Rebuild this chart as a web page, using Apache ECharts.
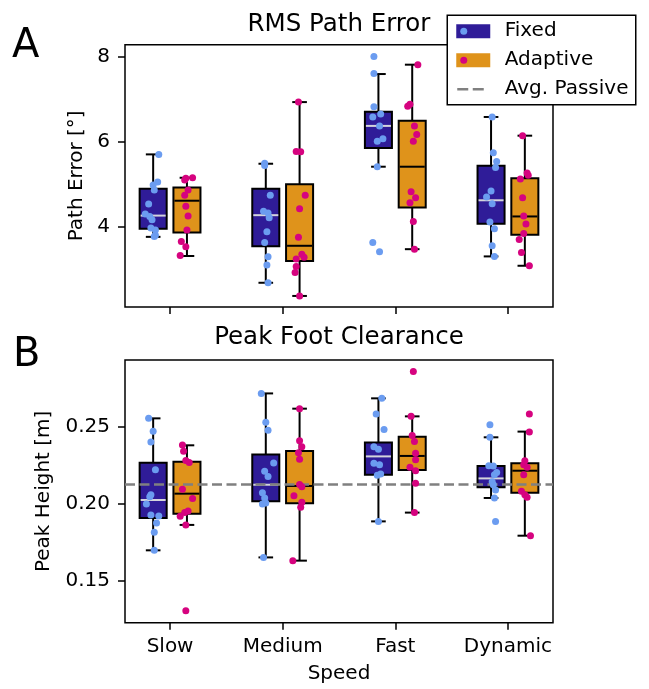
<!DOCTYPE html>
<html>
<head>
<meta charset="utf-8">
<title>RMS Path Error / Peak Foot Clearance</title>
<script src="https://cdn.jsdelivr.net/npm/echarts@6/dist/echarts.min.js"></script>
<style>
  html, body { margin: 0; padding: 0; background: #fff; }
  #chart { width: 649px; height: 689px; }
</style>
</head>
<body>
<div id="chart"></div>
<script>
// categories on the shared x axis
const categories = ['Slow', 'Medium', 'Fast', 'Dynamic'];

// box stats per category: [lower whisker, q1, median, q3, upper whisker]
const errFixedBox = [[3.76, 3.95, 4.26, 4.89, 5.70], [2.68, 3.54, 4.27, 4.89, 5.48], [5.41, 5.85, 6.37, 6.70, 7.59], [3.30, 4.07, 4.62, 5.43, 6.58]];
const errAdaptBox = [[3.31, 3.86, 4.61, 4.92, 5.15], [2.37, 3.19, 3.55, 5.00, 6.93], [3.47, 4.45, 5.41, 6.49, 7.81], [3.08, 3.81, 4.24, 5.14, 6.14]];
const clrFixedBox = [[0.1697, 0.1907, 0.2024, 0.2266, 0.2554], [0.1651, 0.2015, 0.2123, 0.2320, 0.2716], [0.1885, 0.2188, 0.2307, 0.2398, 0.2684], [0.2037, 0.2106, 0.2164, 0.2245, 0.2431]];
const clrAdaptBox = [[0.1862, 0.1935, 0.2065, 0.2273, 0.2379], [0.1630, 0.2002, 0.2115, 0.2342, 0.2617], [0.1942, 0.2219, 0.2310, 0.2435, 0.2567], [0.1792, 0.2071, 0.2214, 0.2262, 0.2468]];

// individual trials, [jittered x, value]
const errFixedPts = [
  [-0.10, 5.70], [-0.11, 5.05], [-0.15, 4.98], [-0.14, 4.86], [-0.19, 4.53], [-0.22, 4.30], [-0.18, 4.24], [-0.16, 4.16], [-0.17, 3.97], [-0.13, 3.92], [-0.14, 3.77], [-0.13, 3.80],
  [0.84, 5.49], [0.84, 5.44], [0.89, 4.74], [0.83, 4.36], [0.87, 4.32], [0.88, 4.21], [0.86, 3.88], [0.84, 3.63], [0.87, 3.29], [0.86, 3.10], [0.87, 2.68],
  [1.81, 8.00], [1.81, 7.60], [1.81, 6.82], [1.87, 6.65], [1.80, 6.58], [1.86, 6.37], [1.89, 6.07], [1.84, 6.01], [1.84, 5.41], [1.80, 3.63], [1.86, 3.41],
  [2.86, 6.58], [2.87, 5.74], [2.90, 5.53], [2.89, 5.39], [2.85, 4.84], [2.81, 4.70], [2.86, 4.54], [2.84, 4.11], [2.88, 3.95], [2.86, 3.55], [2.88, 3.30]
];
const errAdaptPts = [
  [0.14, 5.14], [0.20, 5.15], [0.13, 5.10], [0.16, 4.86], [0.13, 4.74], [0.14, 4.48], [0.16, 4.25], [0.15, 3.92], [0.10, 3.65], [0.14, 3.53], [0.09, 3.32],
  [1.14, 6.93], [1.12, 5.77], [1.16, 5.76], [1.20, 4.74], [1.15, 4.42], [1.14, 3.75], [1.17, 3.35], [1.19, 3.28], [1.12, 3.24], [1.12, 3.06], [1.11, 2.92], [1.15, 2.37],
  [2.20, 7.81], [2.13, 6.88], [2.11, 6.83], [2.17, 6.37], [2.19, 6.17], [2.16, 6.01], [2.14, 4.82], [2.18, 4.68], [2.13, 4.56], [2.16, 4.12], [2.17, 3.47],
  [3.13, 6.14], [3.17, 5.26], [3.18, 5.21], [3.11, 5.12], [3.13, 4.68], [3.14, 4.25], [3.16, 4.06], [3.14, 3.84], [3.10, 3.70], [3.12, 3.39], [3.19, 3.08]
];
const clrFixedPts = [
  [-0.19, 0.2554], [-0.15, 0.2470], [-0.17, 0.2400], [-0.13, 0.2221], [-0.17, 0.2058], [-0.18, 0.2045], [-0.21, 0.1998], [-0.17, 0.1927], [-0.10, 0.1920], [-0.12, 0.1875], [-0.14, 0.1814], [-0.14, 0.1697],
  [0.81, 0.2716], [0.85, 0.2528], [0.87, 0.2476], [0.92, 0.2264], [0.84, 0.2210], [0.87, 0.2177], [0.82, 0.2071], [0.84, 0.2037], [0.85, 0.2005], [0.82, 0.1998], [0.83, 0.1651],
  [1.88, 0.2684], [1.83, 0.2582], [1.90, 0.2481], [1.81, 0.2370], [1.85, 0.2353], [1.81, 0.2262], [1.86, 0.2253], [1.84, 0.2184], [1.87, 0.2193], [1.85, 0.1885],
  [2.84, 0.2513], [2.84, 0.2431], [2.83, 0.2247], [2.87, 0.2245], [2.90, 0.2203], [2.88, 0.2188], [2.86, 0.2143], [2.87, 0.2123], [2.89, 0.2089], [2.88, 0.2037], [2.89, 0.1885]
];
const clrAdaptPts = [
  [0.11, 0.2381], [0.12, 0.2340], [0.14, 0.2281], [0.17, 0.2268], [0.11, 0.2093], [0.20, 0.2034], [0.16, 0.1952], [0.13, 0.1942], [0.09, 0.1918], [0.14, 0.1862], [0.14, 0.1305],
  [1.15, 0.2617], [1.15, 0.2409], [1.17, 0.2370], [1.14, 0.2331], [1.15, 0.2288], [1.15, 0.2125], [1.17, 0.2110], [1.10, 0.2052], [1.17, 0.2009], [1.16, 0.1976], [1.09, 0.1630],
  [2.16, 0.2859], [2.14, 0.2567], [2.15, 0.2442], [2.17, 0.2403], [2.18, 0.2327], [2.18, 0.2286], [2.13, 0.2236], [2.18, 0.2214], [2.18, 0.2132], [2.17, 0.1942],
  [3.19, 0.2582], [3.19, 0.2466], [3.15, 0.2279], [3.14, 0.2253], [3.17, 0.2236], [3.14, 0.2188], [3.12, 0.2080], [3.15, 0.2058], [3.17, 0.2041], [3.20, 0.1792]
];

// reference line (average passive clearance)
const passiveAvg = 0.2123;

// tick values
const errTicks = [4, 6, 8];
const clrTicks = [0.15, 0.20, 0.25];
const catTicks = [0, 1, 2, 3];

const FONT = 'DejaVu Sans';
const FIXED_FILL = '#2f1c98';
const ADAPT_FILL = '#df931b';
const FIXED_DOT = '#6b9cf0';
const ADAPT_DOT = '#d6037f';
const BOX_OFF = 0.15;
const BOX_W = 0.24;
const CAP_W = 0.13;

const chart = echarts.init(document.getElementById('chart'), null, { renderer: 'canvas' });

// 箱线图：须 + 帽 + 箱体 + 中位线
const renderBox = (fill, medianColor) => (params, api) => {
  const x = api.value(0);
  const lo = api.coord([x, api.value(1)]);
  const q1 = api.coord([x, api.value(2)]);
  const md = api.coord([x, api.value(3)]);
  const q3 = api.coord([x, api.value(4)]);
  const hi = api.coord([x, api.value(5)]);
  const w = api.size([BOX_W, 0])[0];
  const cw = api.size([CAP_W, 0])[0];
  const cx = lo[0];
  const seg = (x1, y1, x2, y2, color) => ({
    type: 'line',
    shape: { x1, y1, x2, y2 },
    style: { stroke: color || '#000', lineWidth: 2 }
  });
  return {
    type: 'group',
    children: [
      seg(cx, lo[1], cx, q1[1]),
      seg(cx, q3[1], cx, hi[1]),
      seg(cx - cw / 2, lo[1], cx + cw / 2, lo[1]),
      seg(cx - cw / 2, hi[1], cx + cw / 2, hi[1]),
      {
        type: 'rect',
        shape: { x: cx - w / 2, y: q3[1], width: w, height: q1[1] - q3[1] },
        style: { fill, stroke: '#000', lineWidth: 2 }
      },
      seg(cx - w / 2 + 1, md[1], cx + w / 2 - 1, md[1], medianColor)
    ]
  };
};

const boxData = (stats, off) => stats.map((s, i) => [i + off].concat(s));

const boxSeries = (stats, off, fill, median, idx) => ({
  type: 'custom',
  xAxisIndex: idx,
  yAxisIndex: idx,
  renderItem: renderBox(fill, median),
  encode: { x: 0, y: [1, 2, 3, 4, 5] },
  data: boxData(stats, off),
  z: 3,
  silent: true
});

const dotSeries = (pts, color, idx) => ({
  type: 'scatter',
  xAxisIndex: idx,
  yAxisIndex: idx,
  data: pts,
  symbolSize: 7,
  itemStyle: { color, opacity: 1 },
  z: 5,
  silent: true
});

const xAxisBase = (idx, showLabels) => ({
  type: 'value',
  gridIndex: idx,
  min: -0.4,
  max: 3.4,
  axisLine: { show: false, onZero: false },
  splitLine: { show: false },
  axisTick: { show: true, customValues: catTicks, length: 7, lineStyle: { color: '#000', width: 1.5 } },
  axisLabel: {
    show: showLabels,
    customValues: catTicks,
    formatter: (v) => categories[Math.round(v)],
    margin: 14,
    color: '#000',
    fontSize: 20,
    fontFamily: FONT
  }
});

const yAxisBase = (idx, min, max, ticks, fmt, name, gap) => ({
  type: 'value',
  gridIndex: idx,
  min,
  max,
  name,
  nameLocation: 'middle',
  nameGap: gap,
  nameTextStyle: { color: '#000', fontSize: 20, fontFamily: FONT },
  axisLine: { show: false, onZero: false },
  splitLine: { show: false },
  axisTick: { show: true, customValues: ticks, length: 7, lineStyle: { color: '#000', width: 1.5 } },
  axisLabel: {
    customValues: ticks,
    formatter: fmt,
    margin: 15,
    color: '#000',
    fontSize: 20,
    fontFamily: FONT
  }
});

const option = {
  backgroundColor: '#fff',
  animation: false,
  title: [
    {
      text: 'RMS Path Error',
      left: 339,
      top: 12,
      padding: 0,
      textAlign: 'center',
      textStyle: { fontSize: 24.5, fontWeight: 'normal', color: '#000', fontFamily: FONT }
    },
    {
      text: 'Peak Foot Clearance',
      left: 339,
      top: 325,
      padding: 0,
      textAlign: 'center',
      textStyle: { fontSize: 24.5, fontWeight: 'normal', color: '#000', fontFamily: FONT }
    }
  ],
  grid: [
    { left: 125, top: 44.7, width: 428, height: 262.3, show: true, borderColor: '#000', borderWidth: 1.5, backgroundColor: 'transparent', containLabel: false },
    { left: 125, top: 360, width: 428, height: 262.7, show: true, borderColor: '#000', borderWidth: 1.5, backgroundColor: 'transparent', containLabel: false }
  ],
  xAxis: [
    xAxisBase(0, false),
    Object.assign(xAxisBase(1, true), {
      name: 'Speed',
      nameLocation: 'middle',
      nameGap: 41,
      nameTextStyle: { color: '#000', fontSize: 20, fontFamily: FONT }
    })
  ],
  yAxis: [
    yAxisBase(0, 2.11, 8.28, errTicks, (v) => String(Math.round(v)), 'Path Error [°]', 37),
    yAxisBase(1, 0.1227, 0.2933, clrTicks, (v) => v.toFixed(2), 'Peak Height [m]', 71)
  ],
  series: [
    // panel A
    boxSeries(errFixedBox, -BOX_OFF, FIXED_FILL, '#d4d4dc', 0),
    boxSeries(errAdaptBox, BOX_OFF, ADAPT_FILL, '#000', 0),
    dotSeries(errFixedPts, FIXED_DOT, 0),
    dotSeries(errAdaptPts, ADAPT_DOT, 0),
    // panel B: passive average reference line
    {
      type: 'scatter',
      xAxisIndex: 1,
      yAxisIndex: 1,
      data: [],
      z: 1,
      silent: true,
      markLine: {
        silent: true,
        symbol: 'none',
        precision: 4,
        label: { show: false },
        lineStyle: { color: '#808080', width: 2.5, type: [10, 4.5] },
        data: [{ yAxis: passiveAvg }]
      }
    },
    boxSeries(clrFixedBox, -BOX_OFF, FIXED_FILL, '#d4d4dc', 1),
    boxSeries(clrAdaptBox, BOX_OFF, ADAPT_FILL, '#000', 1),
    dotSeries(clrFixedPts, FIXED_DOT, 1),
    dotSeries(clrAdaptPts, ADAPT_DOT, 1)
  ],
  graphic: [
    // panel letters
    { type: 'text', left: 12, top: 27, style: { text: 'A', fontSize: 40, fontFamily: FONT, fill: '#000' } },
    { type: 'text', left: 13, top: 336, style: { text: 'B', fontSize: 40, fontFamily: FONT, fill: '#000' } },
    // legend
    {
      type: 'group',
      left: 446.5,
      top: 14.5,
      z: 100,
      children: [
        { type: 'rect', shape: { x: 0, y: 0, width: 188.5, height: 89.5 }, style: { fill: '#fff', stroke: '#000', lineWidth: 1.5 } },
        { type: 'rect', shape: { x: 9, y: 9, width: 34, height: 14 }, style: { fill: FIXED_FILL } },
        { type: 'circle', shape: { cx: 16.5, cy: 16, r: 3.5 }, style: { fill: FIXED_DOT } },
        { type: 'text', x: 57.5, y: 16, style: { text: 'Fixed', fontSize: 20, fontFamily: FONT, fill: '#000', verticalAlign: 'middle' } },
        { type: 'rect', shape: { x: 9, y: 38, width: 34, height: 14 }, style: { fill: ADAPT_FILL } },
        { type: 'circle', shape: { cx: 16.5, cy: 45, r: 3.5 }, style: { fill: ADAPT_DOT } },
        { type: 'text', x: 57.5, y: 45, style: { text: 'Adaptive', fontSize: 20, fontFamily: FONT, fill: '#000', verticalAlign: 'middle' } },
        { type: 'line', shape: { x1: 10, y1: 74, x2: 38, y2: 74 }, style: { stroke: '#808080', lineWidth: 2.5, lineDash: [11, 4.5] } },
        { type: 'text', x: 57.5, y: 74, style: { text: 'Avg. Passive', fontSize: 20, fontFamily: FONT, fill: '#000', verticalAlign: 'middle' } }
      ]
    }
  ]
};

chart.setOption(option);
window.addEventListener('resize', () => chart.resize());
</script>
</body>
</html>
